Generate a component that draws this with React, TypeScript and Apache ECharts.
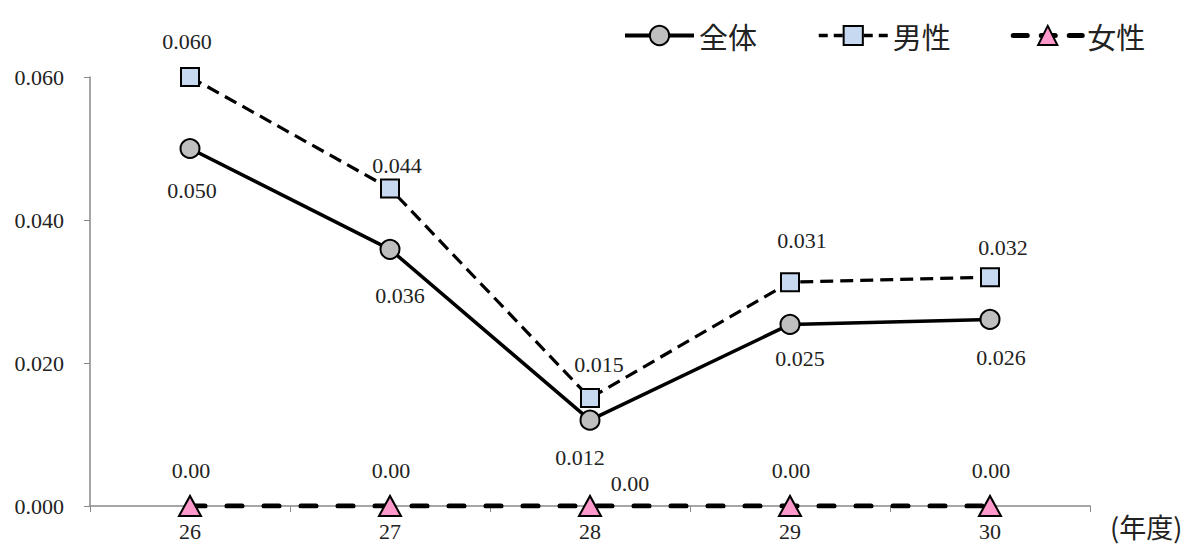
import React, { useEffect, useRef } from 'react';
import * as echarts from 'echarts';

const years = ['26', '27', '28', '29', '30'];
const totalValues = [0.05, 0.0359, 0.012, 0.0254, 0.0261];
const maleValues = [0.06, 0.0444, 0.0151, 0.0313, 0.0320];
const femaleValues = [0, 0, 0, 0, 0];
const seriesNames = ['全体', '男性', '女性'];
const yTicks = { min: 0, max: 0.06, interval: 0.02 };
const xAxisName = '(年度)';

// label offsets (styling only)
const totalLabelOffsets = [[2, 42], [10, 46], [-10, 37], [10, 34], [11, 38]];
const maleLabelOffsets = [[-3, -36], [7, -23], [9, -34], [12, -42], [13, -30]];
const femaleLabelOffsets = [[1, -36], [1, -36], [40, -23], [1, -36], [1, -36]];

export default function App() {
  const ref = useRef<HTMLDivElement>(null);
  useEffect(() => {
    const chart = echarts.init(ref.current!, null, { renderer: 'svg' });
    const numFont = 'Liberation Serif';
    const cjkFont = 'Noto Sans CJK JP';
    const axisColor = '#898989';
    const build = (vals: number[], offs: number[][], digits: number) =>
      vals.map((v, i) => ({
        value: v,
        label: {
          show: true,
          position: 'inside',
          offset: offs[i],
          formatter: () => v.toFixed(digits),
        },
      }));
    const labelBase = {
      show: true,
      color: '#222',
      fontFamily: numFont,
      fontSize: 22,
      align: 'center',
      verticalAlign: 'middle',
    };
    chart.setOption({
      animation: false,
      backgroundColor: '#fff',
      grid: { left: 90, right: 100, top: 77, bottom: 41, containLabel: false },
      legend: {
        left: 618,
        top: 16,
        itemWidth: 69,
        itemHeight: 24,
        itemGap: 60,
        textStyle: { fontFamily: cjkFont, fontSize: 29, color: '#222' },
        data: [
          { name: seriesNames[0], lineStyle: { width: 4 } },
          { name: seriesNames[1], lineStyle: { width: 3.5, type: [9, 6] } },
          { name: seriesNames[2], lineStyle: { width: 5, type: [14, 14], cap: 'round' } },
        ],
      },
      xAxis: {
        type: 'category',
        data: years,
        boundaryGap: true,
        axisLine: { lineStyle: { color: axisColor, width: 1.5 } },
        axisTick: { show: true, length: 6, alignWithLabel: false, lineStyle: { color: axisColor } },
        axisLabel: { fontFamily: numFont, fontSize: 22, color: '#222', margin: 14 },
        splitLine: { show: false },
      },
      yAxis: {
        type: 'value',
        min: yTicks.min,
        max: yTicks.max,
        interval: yTicks.interval,
        axisLine: { show: true, lineStyle: { color: axisColor, width: 1.5 } },
        axisTick: { show: true, length: 6, lineStyle: { color: axisColor } },
        axisLabel: {
          fontFamily: numFont,
          fontSize: 22,
          color: '#222',
          margin: 26,
          formatter: (v: number) => v.toFixed(3),
        },
        splitLine: { show: false },
      },
      graphic: [
        {
          type: 'text',
          left: 1110,
          top: 513,
          style: { text: xAxisName, fontFamily: cjkFont, fontSize: 27, fill: '#222' },
        },
      ],
      series: [
        {
          name: seriesNames[0],
          type: 'line',
          data: build(totalValues, totalLabelOffsets, 3),
          symbol: 'circle',
          symbolSize: 19,
          lineStyle: { color: '#000', width: 3.5 },
          itemStyle: { color: '#bfbfbf', borderColor: '#000', borderWidth: 2 },
          label: labelBase,
          z: 3,
        },
        {
          name: seriesNames[1],
          type: 'line',
          data: build(maleValues, maleLabelOffsets, 3),
          symbol: 'rect',
          symbolSize: 18,
          lineStyle: { color: '#000', width: 3.2, type: [13, 7] },
          itemStyle: { color: '#c6d9f1', borderColor: '#000', borderWidth: 2 },
          label: labelBase,
          z: 4,
        },
        {
          name: seriesNames[2],
          type: 'line',
          data: build(femaleValues, femaleLabelOffsets, 2),
          symbol: 'triangle',
          symbolSize: [22, 20],
          lineStyle: { color: '#000', width: 5, type: [15, 22], cap: 'round' },
          itemStyle: { color: '#ff99cc', borderColor: '#000', borderWidth: 2 },
          label: labelBase,
          z: 5,
        },
      ],
    });
    return () => chart.dispose();
  }, []);
  return (
    <div
      ref={ref}
      style={{ position: 'fixed', left: 0, top: 0, width: 1190, height: 547, background: '#fff' }}
    />
  );
}
